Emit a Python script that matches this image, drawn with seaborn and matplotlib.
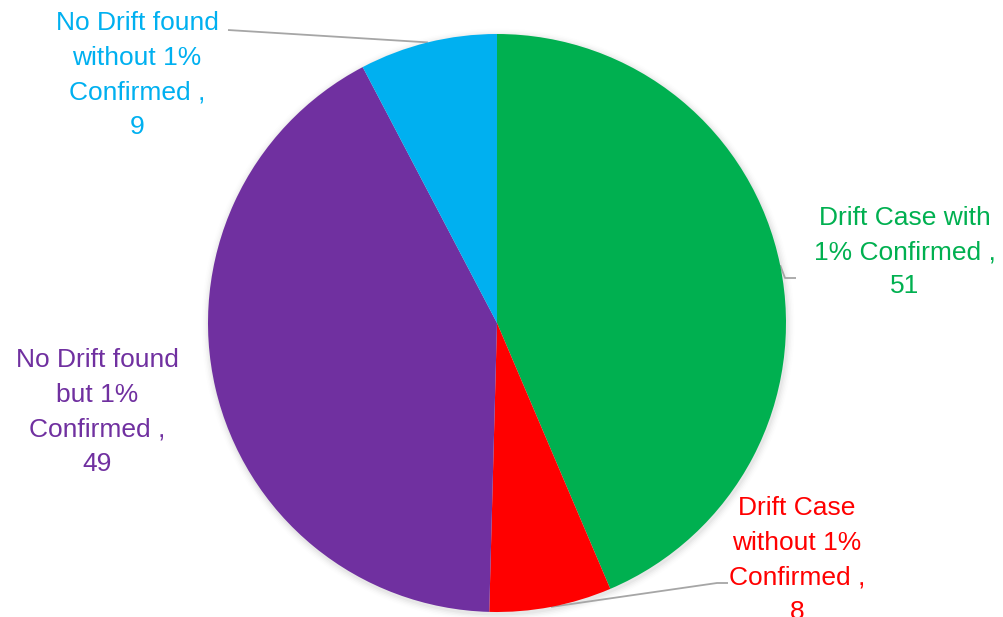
import numpy as np
import matplotlib
matplotlib.use("Agg")
import matplotlib.pyplot as plt
import seaborn as sns

sns.set_theme(style="white")
plt.rcParams['font.family'] = ['Liberation Sans', 'DejaVu Sans']

# data
labels = ["Drift Case with\n1% Confirmed ,\n51",
          "Drift Case\nwithout 1%\nConfirmed ,\n8",
          "No Drift found\nbut 1%\nConfirmed ,\n49",
          "No Drift found\nwithout 1%\nConfirmed ,\n9"]
values = [51, 8, 49, 9]
colors = ["#00B050", "#FF0000", "#7030A0", "#00B0F0"]

W, H = 1004, 617
fig = plt.figure(figsize=(W / 100, H / 100), dpi=100)
ax = fig.add_axes([0, 0, 1, 1])

cx, cy, R = 497, 294, 289

# soft shadow
for i, a in enumerate(np.linspace(0.05, 0.01, 5)):
    ax.add_patch(plt.Circle((cx + 1, cy - 2), R + 1.5 + i * 1.5, color="black",
                            alpha=a * 0.6, lw=0, zorder=0))

wedges, _ = ax.pie(values, startangle=90, counterclock=False, colors=colors,
                   center=(cx, cy), radius=R,
                   wedgeprops=dict(linewidth=0))
for w in wedges:
    w.set_zorder(2)

# label layout (centre of text block) and leader path anchors
label_pos = [(905, 365), (797, 57), (97, 205), (137, 542)]
leader = [[(785, 339), (796, 339)], [(717, 34), (728, 34)], None, [(228, 587)]]

for w, lab, col, pos, ld in zip(wedges, labels, colors, label_pos, leader):
    th1, th2 = w.theta1, w.theta2
    mid = np.deg2rad((th1 + th2) / 2)
    ex, ey = cx + R * np.cos(mid), cy + R * np.sin(mid)
    ax.text(pos[0], pos[1], lab, ha="center", va="center", color=col,
            fontsize=19, linespacing=1.55, zorder=5)
    if ld is not None:
        xs = [ex] + [p[0] for p in ld]
        ys = [ey] + [p[1] for p in ld]
        ax.plot(xs, ys, color="#A6A6A6", lw=1.3, zorder=1, solid_capstyle="butt")

ax.set_xlim(0, W)
ax.set_ylim(0, H)
ax.set_aspect("equal")
ax.axis("off")

fig.savefig("out.png", dpi=100)
